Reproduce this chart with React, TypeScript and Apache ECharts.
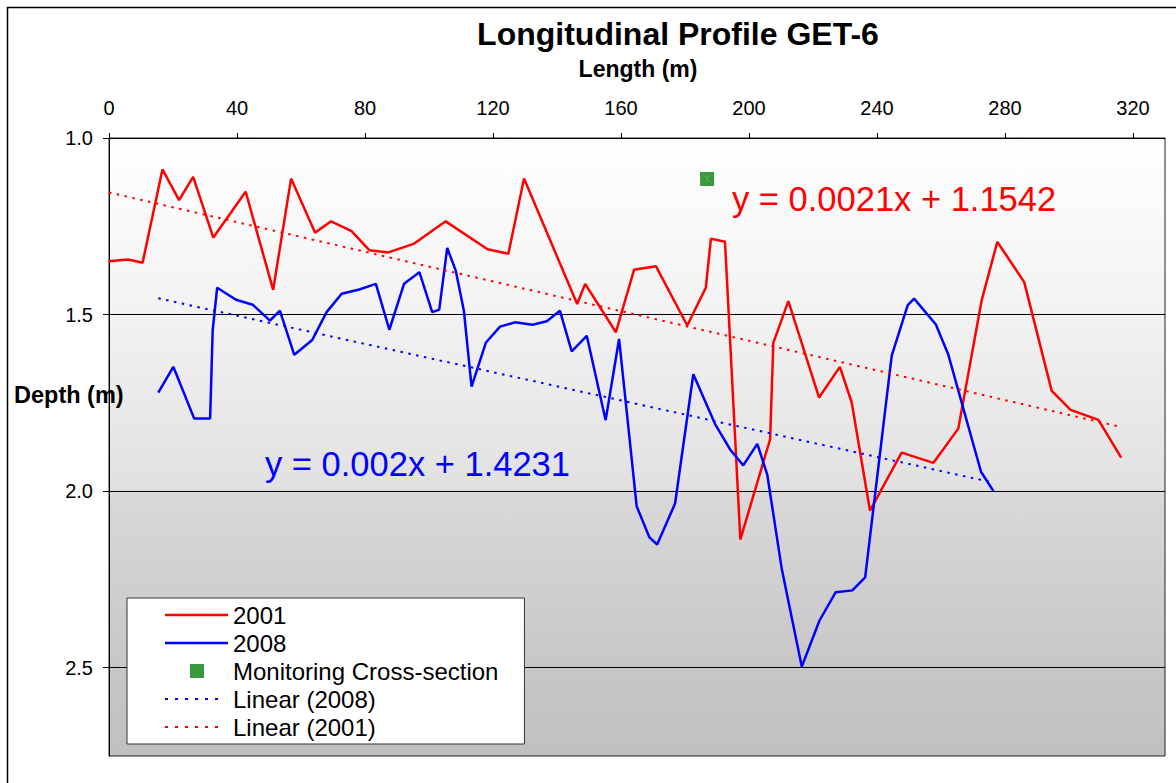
import React, { useEffect, useRef } from "react";
import * as echarts from "echarts";

// ---- data ----
const distance2001 = [0, 6.0, 10.5, 16.7, 21.9, 26.3, 32.6, 42.7, 51.3, 56.9, 64.4, 69.4, 75.8, 81.4, 87.3, 95.4, 105.2, 118.3, 124.8, 129.7, 146.3, 148.8, 158.4, 164.1, 170.9, 180.7, 186.5, 188.1, 192.5, 197.3, 206.6, 207.6, 212.3, 221.9, 228.4, 232.1, 237.8, 247.7, 257.6, 265.4, 272.7, 277.6, 286.0, 294.6, 300.5, 309.2, 316.3];
const depth2001 = [1.349, 1.344, 1.353, 1.089, 1.176, 1.110, 1.282, 1.152, 1.430, 1.115, 1.268, 1.236, 1.264, 1.318, 1.324, 1.299, 1.236, 1.315, 1.328, 1.115, 1.470, 1.413, 1.550, 1.373, 1.363, 1.531, 1.424, 1.285, 1.294, 2.137, 1.853, 1.580, 1.462, 1.735, 1.648, 1.749, 2.055, 1.891, 1.920, 1.823, 1.460, 1.294, 1.408, 1.716, 1.770, 1.798, 1.905];

const distance2008 = [15.4, 20.1, 26.6, 31.6, 32.4, 33.8, 39.7, 44.9, 50.3, 53.4, 57.9, 63.5, 68.0, 72.7, 78.2, 83.4, 87.6, 92.2, 97.0, 101.0, 103.2, 105.7, 108.4, 110.9, 113.3, 117.8, 122.2, 126.9, 132.3, 136.8, 140.9, 144.6, 149.3, 155.2, 159.4, 164.9, 168.9, 171.3, 176.9, 182.6, 189.4, 194.1, 198.2, 202.6, 205.7, 210.2, 216.5, 222.0, 227.1, 232.3, 236.3, 244.6, 249.6, 251.6, 258.4, 262.3, 272.5, 276.4];
const depth2008 = [1.721, 1.648, 1.794, 1.794, 1.545, 1.424, 1.458, 1.472, 1.517, 1.489, 1.614, 1.572, 1.493, 1.441, 1.429, 1.413, 1.543, 1.413, 1.380, 1.493, 1.486, 1.311, 1.377, 1.489, 1.704, 1.579, 1.534, 1.522, 1.529, 1.519, 1.489, 1.604, 1.560, 1.799, 1.569, 2.043, 2.131, 2.151, 2.035, 1.669, 1.810, 1.882, 1.927, 1.866, 1.953, 2.218, 2.497, 2.367, 2.286, 2.281, 2.244, 1.616, 1.473, 1.455, 1.528, 1.614, 1.945, 2.000];

const monitoringDistance = [186.9];
const monitoringDepth = [1.116];

const trend2001 = { slope: 0.0021, intercept: 1.1542 };
const trend2008 = { slope: 0.002, intercept: 1.4231 };

const lengthTicks = [0, 40, 80, 120, 160, 200, 240, 280, 320];
const depthTicks = [1.0, 1.5, 2.0, 2.5];

const FONT = "'Liberation Sans', Arial, Helvetica, sans-serif";

function pairs(xs: number[], ys: number[]) {
  return xs.map((x, i) => [x, ys[i]]);
}
function trendEnds(xs: number[], t: { slope: number; intercept: number }) {
  const x0 = xs[0];
  const x1 = xs[xs.length - 1];
  return [
    [x0, t.slope * x0 + t.intercept],
    [x1, t.slope * x1 + t.intercept],
  ];
}

// legend icons (63 x 24 box kept by invisible corner points)
const ICON_BOX = "M0,0L0,0M63,24L63,24";
const SOLID_ICON = "path://" + ICON_BOX + "M0,10.7L63,10.7L63,13.3L0,13.3Z";
function dottedIcon() {
  let d = "path://" + ICON_BOX;
  for (let x = 0; x < 60; x += 10) {
    d += `M${x},11L${x + 3},11L${x + 3},13L${x},13Z`;
  }
  return d;
}
const DOTTED_ICON = dottedIcon();
const MARKER_ICON = "path://" + ICON_BOX + "M25,5L39,5L39,19L25,19Z";

export default function App() {
  const ref = useRef<HTMLDivElement>(null);

  useEffect(() => {
    if (!ref.current) return;
    const chart = echarts.init(ref.current, null, { renderer: "svg" });

    const option: any = {
      animation: false,
      backgroundColor: "#ffffff",
      textStyle: { fontFamily: FONT },
      grid: {
        left: 109,
        top: 138,
        width: 1056,
        height: 618,
        show: true,
        borderColor: "#222",
        borderWidth: 1,
        backgroundColor: new echarts.graphic.LinearGradient(0, 0, 0, 1, [
          { offset: 0, color: "#ffffff" },
          { offset: 0.285, color: "#f2f2f2" },
          { offset: 0.566, color: "#e1e1e1" },
          { offset: 0.572, color: "#d9d9d9" },
          { offset: 0.854, color: "#c7c7c7" },
          { offset: 1, color: "#c0c0c0" },
        ]),
      },
      xAxis: {
        type: "value",
        position: "top",
        min: 0,
        max: 330,
        interval: 40,
        axisLine: { show: true, lineStyle: { color: "#000", width: 1 } },
        axisTick: {
          show: true,
          length: 5,
          customValues: lengthTicks,
          lineStyle: { color: "#000" },
        },
        axisLabel: {
          customValues: lengthTicks,
          fontSize: 20,
          color: "#000",
          fontFamily: FONT,
          margin: 20,
        },
        splitLine: { show: false },
      },
      yAxis: {
        type: "value",
        inverse: true,
        min: 1,
        max: 2.75,
        interval: 0.5,
        axisLine: { show: true, lineStyle: { color: "#000", width: 1 } },
        axisTick: {
          show: true,
          length: 6,
          customValues: depthTicks,
          lineStyle: { color: "#000" },
        },
        axisLabel: {
          customValues: depthTicks,
          fontSize: 20,
          color: "#000",
          fontFamily: FONT,
          margin: 16,
          formatter: (v: number) => v.toFixed(1),
        },
        splitLine: { show: true, lineStyle: { color: "#000", width: 1 } },
      },
      legend: {
        orient: "vertical",
        left: 127,
        top: 598,
        itemWidth: 63,
        itemHeight: 24,
        itemGap: 4,
        padding: [5, 26, 5, 38],
        backgroundColor: "#ffffff",
        borderColor: "#333",
        borderWidth: 1,
        borderRadius: 0,
        selectedMode: false,
        itemStyle: { borderWidth: 0 },
        textStyle: { fontSize: 24, color: "#000", fontFamily: FONT },
        data: [
          { name: "2001", icon: SOLID_ICON },
          { name: "2008", icon: SOLID_ICON },
          { name: "Monitoring Cross-section", icon: MARKER_ICON },
          { name: "Linear (2008)", icon: DOTTED_ICON },
          { name: "Linear (2001)", icon: DOTTED_ICON },
        ],
      },
      series: [
        {
          name: "2001",
          type: "line",
          data: pairs(distance2001, depth2001),
          symbol: "none",
          color: "#ff0000",
          lineStyle: { color: "#ff0000", width: 2.5 },
          z: 3,
        },
        {
          name: "2008",
          type: "line",
          data: pairs(distance2008, depth2008),
          symbol: "none",
          color: "#0000ff",
          lineStyle: { color: "#0000ff", width: 2.5 },
          z: 3,
        },
        {
          name: "Monitoring Cross-section",
          type: "scatter",
          data: pairs(monitoringDistance, monitoringDepth),
          symbol: "rect",
          symbolSize: 14,
          color: "#0a7d0a",
          itemStyle: { color: "#0a7d0a" },
          z: 5,
        },
        {
          name: "marker-star",
          type: "scatter",
          data: pairs(monitoringDistance, monitoringDepth),
          symbol: "path://M0,0L10,10M10,0L0,10M5,0L5,10",
          symbolSize: 9,
          itemStyle: { color: "none", borderColor: "#52b152", borderWidth: 1 },
          silent: true,
          z: 6,
        },
        {
          name: "Linear (2008)",
          type: "line",
          data: trendEnds(distance2008, trend2008),
          symbol: "none",
          color: "#0000ff",
          lineStyle: { color: "#0000ff", width: 2, type: [2.5, 5.5] },
          z: 4,
        },
        {
          name: "Linear (2001)",
          type: "line",
          data: trendEnds(distance2001, trend2001),
          symbol: "none",
          color: "#ff0000",
          lineStyle: { color: "#ff0000", width: 2, type: [2.5, 5.5] },
          z: 4,
        },
      ],
      graphic: [
        {
          type: "rect",
          silent: true,
          shape: { x: 7.5, y: 7.5, width: 1400, height: 1000 },
          style: { fill: "none", stroke: "#000", lineWidth: 1.5 },
          z: 0,
        },
        {
          type: "text",
          x: 678,
          y: 34,
          style: {
            text: "Longitudinal Profile GET-6",
            fontSize: 32,
            fontWeight: "bold",
            fontFamily: FONT,
            fill: "#000",
            align: "center",
            verticalAlign: "middle",
          },
          z: 10,
        },
        {
          type: "text",
          x: 638,
          y: 69,
          style: {
            text: "Length (m)",
            fontSize: 23,
            fontWeight: "bold",
            fontFamily: FONT,
            fill: "#000",
            align: "center",
            verticalAlign: "middle",
          },
          z: 10,
        },
        {
          type: "text",
          x: 14,
          y: 395,
          style: {
            text: "Depth (m)",
            fontSize: 23.5,
            fontWeight: "bold",
            fontFamily: FONT,
            fill: "#000",
            align: "left",
            verticalAlign: "middle",
          },
          z: 10,
        },
        {
          type: "text",
          x: 732,
          y: 199,
          style: {
            text: "y = 0.0021x + 1.1542",
            fontSize: 34.5,
            fontFamily: FONT,
            fill: "#ff0000",
            align: "left",
            verticalAlign: "middle",
          },
          z: 10,
        },
        {
          type: "text",
          x: 265,
          y: 464,
          style: {
            text: "y = 0.002x + 1.4231",
            fontSize: 34.5,
            fontFamily: FONT,
            fill: "#0000ff",
            align: "left",
            verticalAlign: "middle",
          },
          z: 10,
        },
      ],
    };

    chart.setOption(option);
    return () => chart.dispose();
  }, []);

  return (
    <div
      ref={ref}
      style={{ position: "fixed", left: 0, top: 0, width: 1176, height: 783 }}
    />
  );
}
